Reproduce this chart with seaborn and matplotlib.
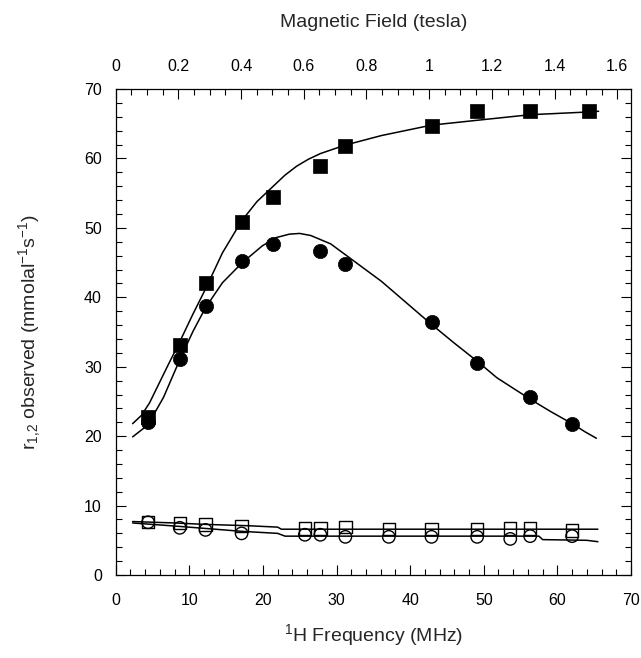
import numpy as np
import pandas as pd
import matplotlib
matplotlib.use("Agg")
import matplotlib.pyplot as plt
from matplotlib.ticker import MultipleLocator
import seaborn as sns

# ---- data ----
freq_fill_sq = [4.4, 8.7, 12.2, 17.1, 21.4, 27.8, 31.2, 42.9, 49.1, 56.3, 64.3]
r_fill_sq = [22.7, 33.2, 42.0, 50.9, 54.4, 58.9, 61.8, 64.7, 66.9, 66.9, 66.8]

freq_fill_ci = [4.4, 8.7, 12.2, 17.1, 21.4, 27.8, 31.2, 42.9, 49.1, 56.3, 62.0]
r_fill_ci = [22.0, 31.1, 38.8, 45.2, 47.7, 46.6, 44.8, 36.4, 30.6, 25.7, 21.7]

freq_open = [4.4, 8.7, 12.2, 17.1, 25.7, 27.8, 31.2, 37.1, 42.9, 49.1, 53.6, 56.3, 62.0]
r_open_sq = [7.6, 7.5, 7.3, 7.1, 6.7, 6.7, 6.9, 6.6, 6.6, 6.6, 6.7, 6.7, 6.4]
r_open_ci = [7.6, 6.8, 6.5, 6.0, 5.8, 5.8, 5.5, 5.5, 5.5, 5.5, 5.2, 5.6, 5.6]

# fitted curves
fit_sq_x = [2.3, 3.5, 4.6, 5.8, 7.0, 8.7, 10.5, 12.2, 14.5, 17.1, 19.2, 21.3, 23.0, 24.6, 26.2,
            27.8, 31.1, 36.1, 42.9, 49.1, 56.3, 64.3, 65.6]
fit_sq_y = [21.8, 23.0, 24.8, 27.4, 30.0, 33.6, 37.6, 41.2, 46.4, 51.0, 53.8, 55.9, 57.6, 58.9, 59.9,
            60.7, 61.9, 63.3, 64.8, 65.5, 66.3, 66.7, 66.8]

fit_ci_x = [2.3, 3.75, 5.0, 6.5, 8.7, 10.5, 12.2, 14.5, 17.1, 19.9, 21.8, 23.6, 25.0, 26.5, 29.2,
            31.5, 36.1, 42.9, 46.0, 49.1, 51.8, 54.0, 56.5, 59.0, 62.0, 63.8, 65.3]
fit_ci_y = [19.9, 21.1, 22.8, 25.6, 31.0, 35.1, 38.5, 42.1, 44.9, 47.4, 48.6, 49.1, 49.2, 48.9, 47.7,
            45.9, 42.3, 36.1, 33.4, 30.8, 28.4, 26.9, 25.2, 23.6, 21.8, 20.6, 19.7]

fit_osq_x = [2.3, 8.0, 12.0, 18.0, 22.0, 22.5, 30.0, 40.0, 50.0, 60.0, 65.5]
fit_osq_y = [7.7, 7.5, 7.3, 7.1, 6.9, 6.6, 6.6, 6.6, 6.6, 6.6, 6.6]

fit_oci_x = [2.3, 8.7, 13.5, 17.0, 22.0, 23.0, 35.0, 45.0, 57.5, 58.0, 64.0, 65.5]
fit_oci_y = [7.5, 7.0, 6.6, 6.3, 6.0, 5.6, 5.6, 5.6, 5.6, 5.1, 5.0, 4.8]

x_ticks = [0, 10, 20, 30, 40, 50, 60, 70]
y_ticks = [0, 10, 20, 30, 40, 50, 60, 70]
field_ticks = [0, 0.2, 0.4, 0.6, 0.8, 1.0, 1.2, 1.4, 1.6]
field_labels = ["0", "0.2", "0.4", "0.6", "0.8", "1", "1.2", "1.4", "1.6"]
MHZ_PER_T = 42.58

sns.set_theme(style="white")
plt.rcParams['font.family'] = ['Liberation Sans', 'DejaVu Sans']
plt.rcParams['mathtext.fontset'] = 'custom'
plt.rcParams['mathtext.rm'] = 'Liberation Sans'
plt.rcParams['mathtext.it'] = 'Liberation Sans'

fig = plt.figure(figsize=(6.41, 6.58), dpi=100)
ax = fig.add_axes([0.1805, 0.1261, 0.8039, 0.7386])

lc = "black"
for fx, fy in [(fit_sq_x, fit_sq_y), (fit_ci_x, fit_ci_y),
               (fit_osq_x, fit_osq_y), (fit_oci_x, fit_oci_y)]:
    d = pd.DataFrame({"x": fx, "y": fy})
    sns.lineplot(data=d, x="x", y="y", ax=ax, color=lc, lw=1.1,
                 sort=False, estimator=None)

d = pd.DataFrame({"x": freq_fill_sq, "y": r_fill_sq})
sns.scatterplot(data=d, x="x", y="y", ax=ax, marker="s", s=115,
                color="black", edgecolor="black", linewidth=0.5, zorder=5)
d = pd.DataFrame({"x": freq_fill_ci, "y": r_fill_ci})
sns.scatterplot(data=d, x="x", y="y", ax=ax, marker="o", s=105,
                color="black", edgecolor="black", linewidth=0.5, zorder=5)
d = pd.DataFrame({"x": freq_open, "y": r_open_sq})
sns.scatterplot(data=d, x="x", y="y", ax=ax, marker="s", s=80,
                facecolor="none", edgecolor="black", linewidth=1.0, zorder=5)
d = pd.DataFrame({"x": freq_open, "y": r_open_ci})
sns.scatterplot(data=d, x="x", y="y", ax=ax, marker="o", s=80,
                facecolor="none", edgecolor="black", linewidth=1.0, zorder=5)

ax.set_xlim(0, 70)
ax.set_ylim(0, 70)
ax.set_xticks(x_ticks)
ax.set_yticks(y_ticks)
ax.xaxis.set_minor_locator(MultipleLocator(2))
ax.yaxis.set_minor_locator(MultipleLocator(2))
ax.tick_params(which="both", direction="in", color="black", width=0.8,
               labelsize=11.5, labelcolor="black")
ax.tick_params(axis="x", which="both", bottom=True, top=False, pad=13)
ax.tick_params(axis="y", which="both", left=True, right=True, pad=10)
ax.tick_params(which="major", length=7)
ax.tick_params(which="minor", length=4)
for s in ax.spines.values():
    s.set_color("black")
    s.set_linewidth(0.9)

ax.set_xlabel("$^{1}$H Frequency (MHz)", fontsize=14, labelpad=10)
ax.set_ylabel("r$_{1{,}2}$ observed (mmolal$^{-1}$s$^{-1}$)", fontsize=14)
ax.yaxis.set_label_coords(-0.141, 0.5)

sec = ax.secondary_xaxis("top", functions=(lambda f: np.asarray(f) / MHZ_PER_T,
                                           lambda b: np.asarray(b) * MHZ_PER_T))
sec.set_xticks(field_ticks)
sec.set_xticklabels(field_labels)
sec.xaxis.set_minor_locator(MultipleLocator(0.05))
sec.tick_params(which="both", direction="in", color="black", width=0.8,
                labelsize=11.5, labelcolor="black", pad=11)
sec.tick_params(which="major", length=7)
sec.tick_params(which="minor", length=4)
sec.spines["top"].set_visible(False)
sec.set_xlabel("Magnetic Field (tesla)", fontsize=14, labelpad=23)

fig.savefig("out.png", dpi=100, facecolor="white")
